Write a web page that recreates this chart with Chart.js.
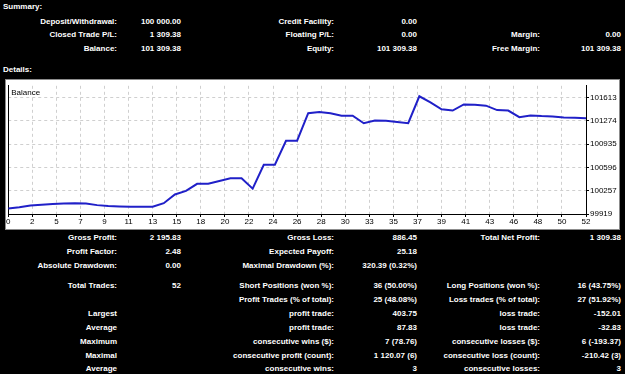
<!DOCTYPE html>
<html>
<head>
<meta charset="utf-8">
<script src="https://cdn.jsdelivr.net/npm/chart.js@4/dist/chart.umd.min.js"></script>
<style>
  body { margin: 0; background: #000; width: 625px; height: 374px; overflow: hidden; position: relative;
         font-family: "Liberation Sans", Arial, sans-serif; font-size: 8px; font-weight: bold; color: #fff; }
  .t { position: absolute; white-space: nowrap; line-height: 10px; height: 10px; }
  .r { text-align: right; width: 220px; }
  #panel { position: absolute; left: 5px; top: 79px; width: 615px; height: 151px; background: #fff;
           border: 1px solid #8c8c8c; box-sizing: border-box; }
  #myChart { position: absolute; left: 0; top: 0; }
</style>
</head>
<body>
<div id="panel"><canvas id="myChart" width="613" height="149"></canvas></div>
<script>
// balance after each trade (trade 0 = initial deposit)
var balance = [100000, 100018, 100042, 100052, 100065, 100070, 100075, 100073, 100048, 100035,
               100029, 100024, 100024, 100024, 100076, 100203, 100254, 100358, 100358, 100398,
               100438, 100438, 100288, 100635, 100635, 100984, 100984, 101384, 101401, 101384,
               101347, 101347, 101238, 101276, 101274, 101257, 101238, 101629.77, 101542, 101440,
               101422, 101511, 101507, 101493, 101429, 101422, 101326, 101351, 101342, 101337,
               101323, 101318, 101309.38];
var xLabels = ['0','2','5','7','9','11','13','15','18','20','22','24','26','28','30','33','35','37','39','41','43','46','48','50','52'];
var yTicks = [99919, 100257, 100596, 100935, 101274, 101613];
var yMin = 99919;
var yMax = 101782;

var colRight = [117, 181, 334, 417, 540, 621];

var summaryRows = [
    ["Deposit/Withdrawal:", "100 000.00", "Credit Facility:", "0.00", "", ""],
    ["Closed Trade P/L:", "1 309.38", "Floating P/L:", "0.00", "Margin:", "0.00"],
    ["Balance:", "101 309.38", "Equity:", "101 309.38", "Free Margin:", "101 309.38"]
];
var summaryY = [21.5, 35, 48.5];

var detailRows = [
    ["Gross Profit:", "2 195.83", "Gross Loss:", "886.45", "Total Net Profit:", "1 309.38"],
    ["Profit Factor:", "2.48", "Expected Payoff:", "25.18", "", ""],
    ["Absolute Drawdown:", "0.00", "Maximal Drawdown (%):", "320.39 (0.32%)", "", ""],
    ["Total Trades:", "52", "Short Positions (won %):", "36 (50.00%)", "Long Positions (won %):", "16 (43.75%)"],
    ["", "", "Profit Trades (% of total):", "25 (48.08%)", "Loss trades (% of total):", "27 (51.92%)"],
    ["Largest", "", "profit trade:", "403.75", "loss trade:", "-152.01"],
    ["Average", "", "profit trade:", "87.83", "loss trade:", "-32.83"],
    ["Maximum", "", "consecutive wins ($):", "7 (78.76)", "consecutive losses ($):", "6 (-193.37)"],
    ["Maximal", "", "consecutive profit (count):", "1 120.07 (6)", "consecutive loss (count):", "-210.42 (3)"],
    ["Average", "", "consecutive wins:", "3", "consecutive losses:", "3"]
];
var detailY = [238, 252, 266, 286, 300, 314, 328, 342, 356, 369];

function addText(txt, x, y, right) {
    var d = document.createElement('div');
    d.className = right ? 't r' : 't';
    d.textContent = txt;
    d.style.left = (right ? x - 220 : x) + 'px';
    d.style.top = (y - 5) + 'px';
    document.body.appendChild(d);
}

function addRows(rows, ys) {
    for (var i = 0; i < rows.length; i++) {
        for (var j = 0; j < rows[i].length; j++) {
            if (rows[i][j] != "") addText(rows[i][j], colRight[j], ys[i], true);
        }
    }
}

addText("Summary:", 3, 7, false);
addText("Details:", 3, 70, false);
addRows(summaryRows, summaryY);
addRows(detailRows, detailY);

var points = balance.map((v, i) => ({x: i, y: v}));
var gridColor = '#cfcfcf';
var tickFont = {family: 'Liberation Sans', size: 8};

var balanceLabel = {
    id: 'balanceLabel',
    afterDraw: function(chart) {
        var ctx = chart.ctx;
        ctx.save();
        ctx.fillStyle = '#000';
        ctx.font = '8px "Liberation Sans"';
        ctx.textBaseline = 'top';
        ctx.fillText('Balance', chart.chartArea.left + 3, chart.chartArea.top + 3);
        ctx.restore();
    }
};

var config = {
    type: 'line',
    data: {
        datasets: [{
            label: 'Balance',
            data: points,
            borderColor: '#2020c8',
            borderWidth: 2,
            pointRadius: 0,
            tension: 0,
            fill: false
        }]
    },
    options: {
        responsive: false,
        animation: false,
        layout: {padding: {left: 1, top: 2, right: 0, bottom: 0}},
        plugins: {legend: {display: false}, tooltip: {enabled: false}},
        scales: {
            x: {
                type: 'linear',
                min: 0,
                max: 52,
                afterBuildTicks: (scale) => { scale.ticks = xLabels.map((l, k) => ({value: k * 52 / 24})); },
                afterFit: (scale) => { scale.height = 15; },
                ticks: {
                    autoSkip: false,
                    maxRotation: 0,
                    padding: 0,
                    color: '#000',
                    font: tickFont,
                    callback: (value, index) => xLabels[index]
                },
                grid: {color: gridColor, tickColor: '#000', tickLength: 3},
                border: {display: true, color: '#000', width: 1, dash: [3, 3]}
            },
            y: {
                position: 'right',
                min: yMin,
                max: yMax,
                afterBuildTicks: (scale) => { scale.ticks = yTicks.map(v => ({value: v})); },
                afterFit: (scale) => { scale.width = 33; },
                ticks: {
                    padding: 1,
                    color: '#000',
                    font: tickFont,
                    callback: (value) => String(value)
                },
                grid: {color: gridColor, tickColor: '#000', tickLength: 3},
                border: {display: true, color: '#000', width: 1, dash: [3, 3]}
            },
            yl: {
                position: 'left',
                min: yMin,
                max: yMax,
                afterFit: (scale) => { scale.width = 0; },
                ticks: {display: false},
                grid: {display: false},
                border: {display: true, color: '#000', width: 1}
            }
        }
    },
    plugins: [balanceLabel]
};

var ctx = document.getElementById('myChart').getContext('2d');
var myChart = new Chart(ctx, config);
</script>
</body>
</html>
